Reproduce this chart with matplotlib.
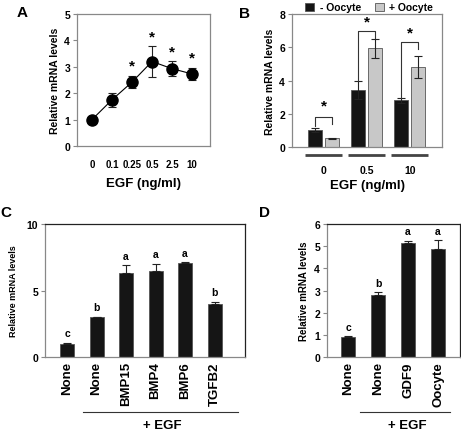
import matplotlib
matplotlib.use("Agg")
import matplotlib.pyplot as plt
import matplotlib.transforms as mtransforms
import numpy as np

plt.rcParams['font.family'] = ['Liberation Sans', 'DejaVu Sans']
plt.rcParams['font.weight'] = 'bold'

# ---- Data ----
a_labels = ["0", "0.1", "0.25", "0.5", "2.5", "10"]
a_vals = [1.0, 1.75, 2.42, 3.2, 2.93, 2.73]
a_errs = [0.1, 0.27, 0.23, 0.58, 0.28, 0.22]
a_sig = [False, False, True, True, True, True]

b_groups = ["0", "0.5", "10"]
b_minus = [1.02, 3.42, 2.8]
b_minus_err = [0.1, 0.55, 0.17]
b_plus = [0.52, 5.95, 4.82]
b_plus_err = [0.05, 0.57, 0.65]

c_labels = ["None", "None", "BMP15", "BMP4", "BMP6", "TGFB2"]
c_vals = [1.0, 3.0, 6.3, 6.5, 7.05, 3.95]
c_errs = [0.05, 0.03, 0.6, 0.5, 0.07, 0.2]
c_letters = ["c", "b", "a", "a", "a", "b"]

d_labels = ["None", "None", "GDF9", "Oocyte"]
d_vals = [0.9, 2.8, 5.15, 4.85]
d_errs = [0.03, 0.12, 0.1, 0.42]
d_letters = ["c", "b", "a", "a"]

W, H = 461, 431
fig = plt.figure(figsize=(W / 100, H / 100), dpi=100)


def px_axes(l, r, t, b):
    return fig.add_axes([l / W, 1 - b / H, (r - l) / W, (b - t) / H])


GRAY = "#888888"
BAR = "#151515"


def style(ax, spine_colors):
    for k, c in spine_colors.items():
        ax.spines[k].set_color(c)
        ax.spines[k].set_linewidth(0.9)
    ax.tick_params(axis='y', direction='out', length=3, width=0.8, color=GRAY,
                   labelsize=7.5, pad=2)
    ax.tick_params(axis='x', length=0)


# ---- Panel A ----
axA = px_axes(77, 210, 15, 147)
xa = np.arange(len(a_vals))
axA.errorbar(xa, a_vals, yerr=a_errs, fmt='o-', color='black', ms=8,
             lw=0.8, elinewidth=0.8, capsize=3, capthick=0.8, ecolor='#222222')
for x, v, e, s in zip(xa, a_vals, a_errs, a_sig):
    if s:
        axA.text(x, v + e + 0.12, "*", ha='center', va='bottom', fontsize=11,
                 fontweight='bold')
axA.set_xlim(-0.75, 5.9)
axA.set_ylim(0, 5)
axA.set_yticks([0, 1, 2, 3, 4, 5])
axA.set_xticks(xa)
axA.set_xticklabels(a_labels, fontweight='bold')
style(axA, {'left': GRAY, 'bottom': GRAY, 'top': GRAY, 'right': GRAY})
axA.tick_params(axis='x', labelsize=7, pad=9)
axA.set_ylabel("Relative mRNA levels", fontsize=7.5, fontweight='bold', labelpad=3)
axA.set_xlabel("EGF (ng/ml)", fontsize=9.5, fontweight='bold', labelpad=6)

# ---- Panel B ----
axB = px_axes(292, 442, 15, 148)
xb = np.arange(len(b_groups))
off = 0.2
bw = 0.33
axB.bar(xb - off, b_minus, bw, color=BAR, edgecolor='#555555', lw=0.6,
        yerr=b_minus_err, error_kw=dict(ecolor='#222222', elinewidth=0.8, capsize=3, capthick=0.8))
axB.bar(xb + off, b_plus, bw, color='#c8c8c8', edgecolor='#555555', lw=0.6,
        yerr=b_plus_err, error_kw=dict(ecolor='#222222', elinewidth=0.8, capsize=3, capthick=0.8))
brackets = [(1.28, 1.79, 1.39, 2.05), (4.0, 7.0, 6.55, 7.15), (2.97, 6.3, 5.9, 6.45)]
for x, (l0, top, r0, sy) in zip(xb, brackets):
    axB.plot([x - off, x - off, x + off, x + off], [l0, top, top, r0],
             color='#333333', lw=0.8)
    axB.text(x, sy, "*", ha='center', va='bottom', fontsize=11, fontweight='bold')
axB.set_xlim(-0.74, 2.75)
axB.set_ylim(0, 8)
axB.set_yticks([0, 2, 4, 6, 8])
axB.set_xticks(xb)
axB.set_xticklabels(b_groups, fontweight='bold')
style(axB, {'left': GRAY, 'bottom': GRAY, 'top': GRAY, 'right': GRAY})
axB.tick_params(axis='x', labelsize=7.5, pad=13)
trB = mtransforms.blended_transform_factory(axB.transData, axB.transAxes)
for x in xb:
    axB.plot([x - 0.43, x + 0.43], [-0.06, -0.06], color='#444444', lw=2,
             transform=trB, clip_on=False, solid_capstyle='butt')
axB.set_ylabel("Relative mRNA levels", fontsize=7.5, fontweight='bold', labelpad=3)
axB.set_xlabel("EGF (ng/ml)", fontsize=9.5, fontweight='bold', labelpad=3)
# legend
fig.patches.append(plt.Rectangle((305 / W, 1 - 12 / H), 9 / W, 8 / H, transform=fig.transFigure,
                                 facecolor=BAR, edgecolor='#555555', lw=0.6))
fig.text(320 / W, 1 - 8 / H, "- Oocyte", fontsize=7.5, fontweight='bold', va='center')
fig.patches.append(plt.Rectangle((375 / W, 1 - 12 / H), 9 / W, 8 / H, transform=fig.transFigure,
                                 facecolor='#c8c8c8', edgecolor='#555555', lw=0.6))
fig.text(389 / W, 1 - 8 / H, "+ Oocyte", fontsize=7.5, fontweight='bold', va='center')

# ---- Panel C ----
axC = px_axes(45, 245, 225, 358)
xc = np.arange(len(c_vals))
axC.bar(xc, c_vals, 0.47, color=BAR, edgecolor='#555555', lw=0.6,
        yerr=[np.zeros(len(c_errs)), c_errs],
        error_kw=dict(ecolor='#222222', elinewidth=0.8, capsize=3, capthick=0.8))
for x, v, e, t in zip(xc, c_vals, c_errs, c_letters):
    axC.text(x, v + e + 0.35, t, ha='center', va='bottom', fontsize=7.5, fontweight='bold')
axC.set_xlim(-0.75, 6.03)
axC.set_ylim(0, 10)
axC.set_yticks([0, 5, 10])
axC.set_xticks(xc)
axC.set_xticklabels(c_labels, rotation=90, fontweight='bold')
style(axC, {'left': GRAY, 'bottom': GRAY, 'top': '#222222', 'right': '#222222'})
axC.tick_params(axis='x', pad=3, labelsize=9.5)
axC.set_ylabel("Relative mRNA levels", fontsize=6.5, fontweight='bold', labelpad=6)
trC = mtransforms.blended_transform_factory(axC.transData, fig.transFigure)
axC.plot([0.54, 5.79], [1 - 413 / H] * 2, color='#333333', lw=0.8,
         transform=trC, clip_on=False)
fig.text(162 / W, 1 - 426 / H, "+ EGF", fontsize=9.5, fontweight='bold',
         ha='center', va='center')

# ---- Panel D ----
axD = px_axes(327, 460, 225, 358)
xd = np.arange(len(d_vals))
axD.bar(xd, d_vals, 0.45, color=BAR, edgecolor='#555555', lw=0.6,
        yerr=[np.zeros(len(d_errs)), d_errs],
        error_kw=dict(ecolor='#222222', elinewidth=0.8, capsize=3, capthick=0.8))
for x, v, e, t in zip(xd, d_vals, d_errs, d_letters):
    axD.text(x, v + e + 0.2, t, ha='center', va='bottom', fontsize=7.5, fontweight='bold')
axD.set_xlim(-0.7, 3.73)
axD.set_ylim(0, 6)
axD.set_yticks([0, 1, 2, 3, 4, 5, 6])
axD.set_xticks(xd)
axD.set_xticklabels(d_labels, rotation=90, fontweight='bold')
style(axD, {'left': GRAY, 'bottom': GRAY, 'top': '#222222', 'right': '#222222'})
axD.tick_params(axis='x', pad=3, labelsize=9.5)
axD.set_ylabel("Relative mRNA levels", fontsize=7, fontweight='bold', labelpad=4)
trD = mtransforms.blended_transform_factory(axD.transData, fig.transFigure)
axD.plot([0.4, 3.4], [1 - 413 / H] * 2, color='#333333', lw=0.8,
         transform=trD, clip_on=False)
fig.text(407 / W, 1 - 426 / H, "+ EGF", fontsize=9.5, fontweight='bold',
         ha='center', va='center')

# Panel letters
for s, x, y in [("A", 22, 13), ("B", 244, 14), ("C", 6, 213), ("D", 264, 213)]:
    fig.text(x / W, 1 - y / H, s, fontsize=11, fontweight='bold', ha='center', va='center')

fig.savefig("out.png", dpi=100)
